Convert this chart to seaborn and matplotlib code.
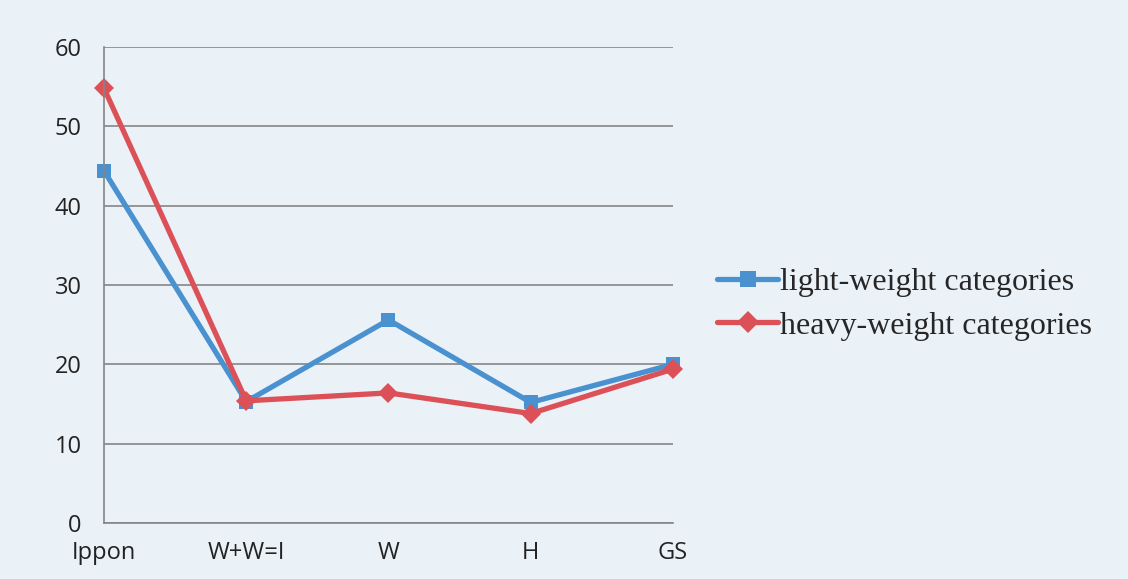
import matplotlib
matplotlib.use("Agg")
import matplotlib.pyplot as plt
import seaborn as sns
import pandas as pd

# Data
categories = ["Ippon", "W+W=I", "W", "H", "GS"]
light_weight = [44.4, 15.3, 25.6, 15.2, 20.0]
heavy_weight = [54.8, 15.4, 16.4, 13.8, 19.4]
series_names = ["light-weight categories", "heavy-weight categories"]

df = pd.DataFrame({
    "category": categories * 2,
    "value": light_weight + heavy_weight,
    "series": [series_names[0]] * len(categories) + [series_names[1]] * len(categories),
})

sns.set_style("white")
plt.rcParams["font.family"] = ["Open Sans", "DejaVu Sans"]

bg = "#eaf1f7"
fig = plt.figure(figsize=(11.28, 5.79), dpi=100, facecolor=bg)
ax = fig.add_axes([0.0922, 0.0967, 0.5044, 0.8221])
ax.set_facecolor(bg)

palette = {series_names[0]: "#4a91cf", series_names[1]: "#dc5058"}
markers = {series_names[0]: "s", series_names[1]: "D"}

sns.lineplot(data=df, x="category", y="value", hue="series", style="series",
             palette=palette, markers=markers, dashes=False, sort=False,
             linewidth=3.8, markersize=10, markeredgewidth=0, ax=ax, legend=False)
for line in ax.lines:
    line.set_clip_on(False)

ax.set_xlim(0, len(categories) - 1)
ax.set_ylim(0, 60)
ax.set_yticks(range(0, 61, 10))
ax.yaxis.grid(True, color="#858585", linewidth=1.2)
ax.set_axisbelow(True)
ax.set_xlabel("")
ax.set_ylabel("")

for side in ["top", "right"]:
    ax.spines[side].set_visible(False)
for side in ["left", "bottom"]:
    ax.spines[side].set_color("#858585")
    ax.spines[side].set_linewidth(1.2)

ax.tick_params(axis="both", direction="out", length=8, width=1.2, color="#858585",
               labelsize=17, labelcolor="#222222")
ax.tick_params(axis="y", pad=8)
ax.tick_params(axis="x", pad=5)

# legend
handles = []
for name in series_names:
    h, = ax.plot([], [], color=palette[name], marker=markers[name], linewidth=3.8,
                 markersize=11, markeredgewidth=0)
    handles.append(h)
fig.legend(handles, series_names, loc="center left", bbox_to_anchor=(0.636, 0.475),
           frameon=False, borderpad=0, borderaxespad=0, handlelength=1.9,
           handletextpad=0.05, labelspacing=0.45,
           prop={"family": ["Liberation Serif", "DejaVu Serif"], "size": 23})

fig.savefig("out.png", dpi=100, facecolor=bg)
